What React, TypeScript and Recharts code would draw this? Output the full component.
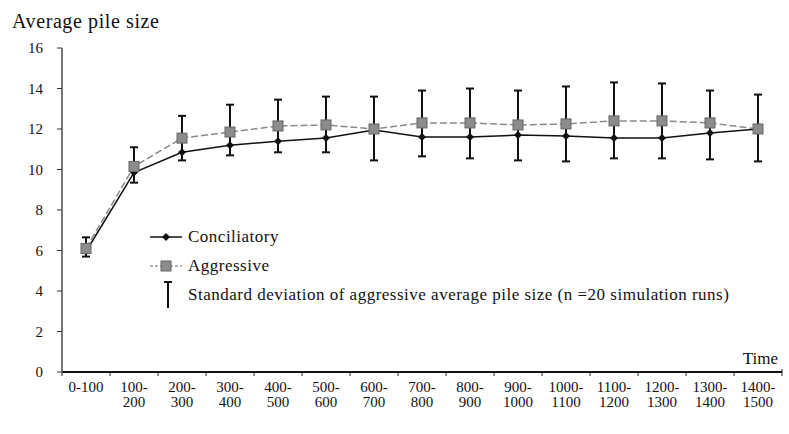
import React from 'react';
import { LineChart, Line, XAxis, YAxis, ErrorBar, Legend, Label } from 'recharts';

const categories = [
  '0-100', '100-200', '200-300', '300-400', '400-500', '500-600', '600-700', '700-800',
  '800-900', '900-1000', '1000-1100', '1100-1200', '1200-1300', '1300-1400', '1400-1500',
];
const tickTop = ['0-100', '100-', '200-', '300-', '400-', '500-', '600-', '700-', '800-', '900-', '1000-', '1100-', '1200-', '1300-', '1400-'];
const tickBottom = ['', '200', '300', '400', '500', '600', '700', '800', '900', '1000', '1100', '1200', '1300', '1400', '1500'];

const conciliatory = [5.95, 9.85, 10.85, 11.2, 11.4, 11.55, 11.95, 11.6, 11.6, 11.7, 11.65, 11.55, 11.55, 11.8, 12.0];
const aggressive = [6.1, 10.15, 11.55, 11.85, 12.15, 12.2, 12.0, 12.3, 12.3, 12.2, 12.25, 12.4, 12.4, 12.3, 12.0];
// aggressive mean +/- standard deviation, read as the bar ends
const sdHigh = [6.65, 11.1, 12.65, 13.2, 13.45, 13.6, 13.6, 13.9, 14.0, 13.9, 14.1, 14.3, 14.25, 13.9, 13.7];
const sdLow = [5.7, 9.35, 10.45, 10.7, 10.85, 10.85, 10.45, 10.65, 10.55, 10.45, 10.4, 10.55, 10.55, 10.5, 10.4];

const yTicks = [0, 2, 4, 6, 8, 10, 12, 14, 16];

const data = categories.map((name, i) => ({
  name,
  conciliatory: conciliatory[i],
  aggressive: aggressive[i],
  sd: [aggressive[i] - sdLow[i], sdHigh[i] - aggressive[i]],
}));

const W = 789;
const H = 434;
const M = { top: 48, right: 7, bottom: 22, left: 0 };
const Y_W = 62;
const PLOT_W = W - M.left - M.right - Y_W;
const BAND = PLOT_W / categories.length;
const FONT = 'Liberation Serif, DejaVu Serif, serif';

const XTick = (props: any) => {
  const { x, y, index } = props;
  const half = BAND / 2;
  return (
    <g>
      <line x1={x - half} x2={x - half} y1={y} y2={y + 4} stroke="#222" strokeWidth={1} />
      {index === categories.length - 1 && (
        <line x1={x + half} x2={x + half} y1={y - 3} y2={y + 4} stroke="#222" strokeWidth={1} />
      )}
      <text x={x} y={y + 20} textAnchor="middle" style={{ fontFamily: FONT }} fontSize={15} fill="#111">
        {tickTop[index]}
      </text>
      <text x={x} y={y + 35} textAnchor="middle" style={{ fontFamily: FONT }} fontSize={15} fill="#111">
        {tickBottom[index]}
      </text>
    </g>
  );
};

const AggDot = (p: any) => (
  <rect key={`a${p.index}`} x={p.cx - 5} y={p.cy - 5} width={10} height={10} fill="#8c8c8c" stroke="#666" strokeWidth={1} />
);

const ConcDot = (p: any) => (
  <path
    key={`c${p.index}`}
    d={`M${p.cx},${p.cy - 4} L${p.cx + 4},${p.cy} L${p.cx},${p.cy + 4} L${p.cx - 4},${p.cy} Z`}
    fill="#111"
  />
);

const legendRow: React.CSSProperties = { display: 'flex', alignItems: 'center', height: 29 };
const legendText: React.CSSProperties = {
  fontFamily: FONT,
  fontSize: 17,
  letterSpacing: 0.5,
  color: '#111',
  marginLeft: 4,
  whiteSpace: 'nowrap',
};

const renderLegend = () => (
  <div>
    <div style={legendRow}>
      <svg width={36} height={12}>
        <line x1={2} x2={34} y1={6} y2={6} stroke="#111" strokeWidth={1.5} />
        <path d="M18,2 L22,6 L18,10 L14,6 Z" fill="#111" />
      </svg>
      <span style={legendText}>Conciliatory</span>
    </div>
    <div style={legendRow}>
      <svg width={36} height={12}>
        <line x1={2} x2={34} y1={6} y2={6} stroke="#999" strokeWidth={1.5} strokeDasharray="3 2" />
        <rect x={13} y={1} width={10} height={10} fill="#8c8c8c" stroke="#666" />
      </svg>
      <span style={legendText}>Aggressive</span>
    </div>
    <div style={legendRow}>
      <svg width={36} height={30}>
        <line x1={20} x2={20} y1={2} y2={28} stroke="#111" strokeWidth={2} />
        <line x1={16} x2={24} y1={2} y2={2} stroke="#111" strokeWidth={2} />
      </svg>
      <span style={legendText}>Standard deviation of aggressive average pile size (n =20 simulation runs)</span>
    </div>
  </div>
);

export default function App() {
  return (
    <div style={{ position: 'absolute', left: 0, top: 0, width: W, height: H, background: '#fff', fontFamily: FONT }}>
      <LineChart width={W} height={H} data={data} margin={M} style={{ fontFamily: FONT }}>
        <XAxis
          dataKey="name"
          interval={0}
          height={40}
          padding={{ left: BAND / 2, right: BAND / 2 }}
          axisLine={{ stroke: '#111', strokeWidth: 2 }}
          tickLine={false}
          tickSize={0}
          tickMargin={0}
          tick={<XTick />}
        >
          <Label
            content={(props: any) => {
              const vb = props.viewBox;
              return (
                <text x={vb.x + vb.width - 4} y={vb.y - 8} textAnchor="end" style={{ fontFamily: FONT }} fontSize={17} fill="#111">
                  Time
                </text>
              );
            }}
          />
        </XAxis>
        <YAxis
          width={Y_W}
          domain={[0, 16]}
          ticks={yTicks}
          interval={0}
          axisLine={{ stroke: '#777', strokeWidth: 2 }}
          tickLine={{ stroke: '#333' }}
          tickSize={5}
          tickMargin={14}
          tick={{ fontSize: 15, fill: '#111', style: { fontFamily: FONT } }}
        >
          <Label
            content={() => (
              <text x={12} y={28} style={{ fontFamily: FONT, letterSpacing: 0.6 }} fontSize={20} fill="#111">
                Average pile size
              </text>
            )}
          />
        </YAxis>
        <Legend
          layout="vertical"
          align="center"
          verticalAlign="middle"
          content={renderLegend}
          wrapperStyle={{ left: 148, top: 222, width: 620 }}
        />
        <Line
          dataKey="conciliatory"
          stroke="#111"
          strokeWidth={1.5}
          dot={ConcDot}
          isAnimationActive={false}
          legendType="none"
        />
        <Line
          dataKey="aggressive"
          stroke="#8a8a8a"
          strokeWidth={1.5}
          strokeDasharray="7 3"
          dot={AggDot}
          isAnimationActive={false}
          legendType="none"
        >
          <ErrorBar dataKey="sd" direction="y" width={4} stroke="#111" strokeWidth={2} isAnimationActive={false} />
        </Line>
      </LineChart>
    </div>
  );
}
